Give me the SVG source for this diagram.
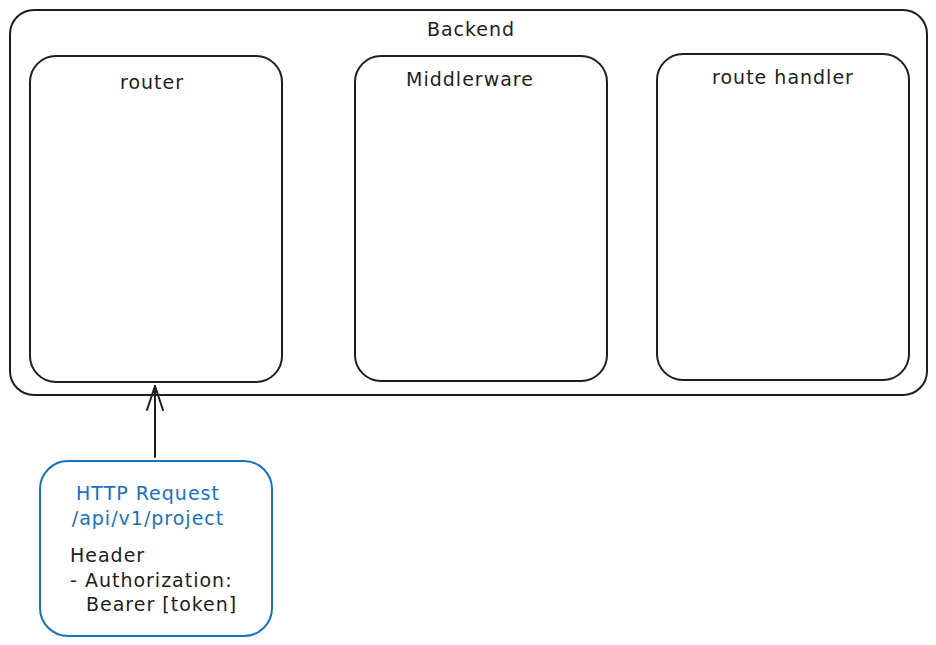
<svg xmlns="http://www.w3.org/2000/svg" width="936" height="645" viewBox="0 0 936 645">
<defs>
<style>
.box{fill:none;stroke:#1e1e1e;stroke-width:2}
.req{fill:none;stroke:#1971c2;stroke-width:2}
.t{font-family:"DejaVu Sans","Liberation Sans",sans-serif;font-size:19px;letter-spacing:1px;fill:#1e1e1e}
.tb{font-family:"DejaVu Sans","Liberation Sans",sans-serif;font-size:19px;letter-spacing:1px;fill:#1971c2}
.c{text-anchor:middle}
.conn{stroke:#1e1e1e;stroke-width:2;fill:none;stroke-linecap:round}
</style>
<marker id="arr" viewBox="0 0 26 20" refX="25" refY="10" markerWidth="26" markerHeight="20" markerUnits="userSpaceOnUse" orient="auto">
<path d="M1,2 L25,10 L1,18" fill="none" stroke="#1e1e1e" stroke-width="2" stroke-linecap="round" stroke-linejoin="round"/>
</marker>
</defs>
<rect width="936" height="645" fill="#ffffff"/>
<g id="backend">
<rect class="box" x="10" y="10" width="917" height="385" rx="24"/>
<text class="t c" x="471" y="36">Backend</text>
</g>
<g id="router">
<rect class="box" x="30" y="56" width="252" height="326" rx="26"/>
<text class="t c" x="152" y="89">router</text>
</g>
<g id="middleware">
<rect class="box" x="355" y="56" width="252" height="325" rx="26"/>
<text class="t c" x="470" y="86">Middlerware</text>
</g>
<g id="route-handler">
<rect class="box" x="657" y="54" width="252" height="326" rx="26"/>
<text class="t c" x="783" y="84">route handler</text>
</g>
<g id="request">
<rect class="req" x="40" y="461" width="232" height="175" rx="28"/>
<text class="tb c" x="148" y="500">HTTP Request</text>
<text class="tb c" x="148" y="525">/api/v1/project</text>
<text class="t" x="70" y="562">Header</text>
<text class="t" x="70" y="587">- Authorization:</text>
<text class="t" x="86" y="611">Bearer [token]</text>
</g>
<g id="connectors">
<line class="conn" x1="155" y1="457" x2="155" y2="386" marker-end="url(#arr)"/>
</g>
</svg>
